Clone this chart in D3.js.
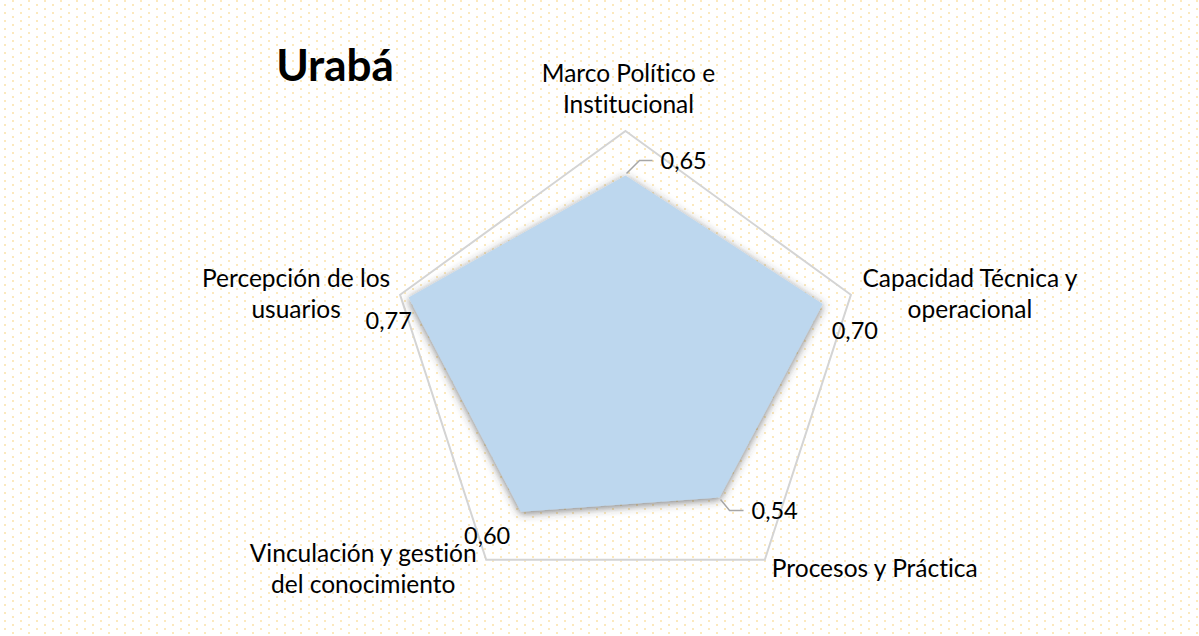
<!DOCTYPE html>
<html>
<head>
<meta charset="utf-8">
<script src="https://cdn.jsdelivr.net/npm/d3@7"></script>
<style>
  html, body { margin: 0; padding: 0; background: #fff; }
  svg { display: block; }
  text { font-family: Lato, "Open Sans", sans-serif; fill: #000; font-variant-ligatures: none; }
</style>
</head>
<body>
<svg id="chart" width="1199" height="636"></svg>
<script>
// Índices por dimensión – Urabá
const title = "Urabá";
const categories = [
  ["Marco Político e", "Institucional"],
  ["Capacidad Técnica y", "operacional"],
  ["Procesos y Práctica"],
  ["Vinculación y gestión", "del conocimiento"],
  ["Percepción de los", "usuarios"]
];
const values = [0.65, 0.70, 0.54, 0.60, 0.77];
const valueLabels = ["0,65", "0,70", "0,54", "0,60", "0,77"];
const axisMax = 0.8;

const W = 1199, H = 636;
const cx = 625.5, cy = 368, R = 237;

const svg = d3.select("#chart");
const defs = svg.append("defs");

// dotted background fill
const pat = defs.append("pattern")
  .attr("id", "dots").attr("patternUnits", "userSpaceOnUse")
  .attr("width", 16).attr("height", 8);
pat.append("rect").attr("x", 12).attr("y", 0).attr("width", 2).attr("height", 2).attr("fill", "#fce9bd");
pat.append("rect").attr("x", 4).attr("y", 4).attr("width", 2).attr("height", 2).attr("fill", "#fce9bd");
svg.append("rect").attr("width", W).attr("height", H).attr("fill", "#fff");
svg.append("rect").attr("width", W).attr("height", H).attr("fill", "url(#dots)");

// soft shadow around the filled area
const f = defs.append("filter").attr("id", "shadow")
  .attr("x", "-20%").attr("y", "-20%").attr("width", "140%").attr("height", "140%");
f.append("feDropShadow").attr("dx", 0).attr("dy", 2).attr("stdDeviation", 4)
  .attr("flood-color", "#3a3a3a").attr("flood-opacity", 0.65);

const r = d3.scaleLinear().domain([0, axisMax]).range([0, R]);
const angle = d3.scalePoint().domain(d3.range(categories.length + 1)).range([0, 2 * Math.PI]);
const pt = (i, v) => {
  const a = angle(i);
  return [cx + r(v) * Math.sin(a), cy - r(v) * Math.cos(a)];
};

const g = svg.append("g");

// outer gridline
const outer = categories.map((_, i) => pt(i, axisMax));
g.append("path")
  .attr("d", d3.line()(outer) + "Z")
  .attr("fill", "none").attr("stroke", "#d4d4d4").attr("stroke-width", 2);

// data area
const line = d3.lineRadial()
  .angle((d, i) => angle(i))
  .radius(d => r(d))
  .curve(d3.curveLinearClosed);
g.append("path")
  .datum(values)
  .attr("transform", `translate(${cx},${cy})`)
  .attr("d", line)
  .attr("fill", "#bdd7ee")
  .attr("filter", "url(#shadow)");

// category labels, placed beyond the outer vertices
const catOffset = [
  { dx: 3, dy: -28 },
  { dx: 119, dy: 14 },
  { dx: 110, dy: 8 },
  { dx: -123, dy: 24 },
  { dx: -104, dy: 14 }
];
const lineH = 31;
categories.forEach((lines, i) => {
  const [x, y] = pt(i, axisMax);
  const o = catOffset[i];
  const t = svg.append("text")
    .attr("text-anchor", "middle")
    .style("font-size", "24.5px");
  lines.forEach((s, k) => {
    t.append("tspan")
      .attr("x", x + o.dx)
      .attr("y", y + o.dy - (lines.length - 1 - k) * lineH)
      .attr("dominant-baseline", "central")
      .text(s);
  });
});

// value labels with leader lines where they sit away from the point
const valOffset = [
  { dx: 35, dy: -15, leader: true },
  { dx: 9, dy: 26, leader: false },
  { dx: 32, dy: 13, leader: true },
  { dx: -57, dy: 23, leader: false },
  { dx: -43, dy: 22, leader: false }
];
values.forEach((v, i) => {
  const [x, y] = pt(i, v);
  const o = valOffset[i];
  if (o.leader) {
    const ex = x + o.dx - 8, ey = y + o.dy;
    const mx = i === 0 ? x + 14 : x + 10;
    const sy = i === 0 ? y - 2 : y + 2;
    g.append("path")
      .attr("d", `M${x + 1},${sy} L${mx},${ey} L${ex},${ey}`)
      .attr("fill", "none").attr("stroke", "#a6a6a6").attr("stroke-width", 1.5);
  }
  svg.append("text")
    .attr("x", x + o.dx).attr("y", y + o.dy)
    .attr("dominant-baseline", "central")
    .style("font-size", "23.5px")
    .text(valueLabels[i]);
});

// title
svg.append("text")
  .attr("x", 335).attr("y", 64)
  .attr("text-anchor", "middle")
  .attr("dominant-baseline", "central")
  .style("font-size", "44px").style("font-weight", "bold")
  .text(title);
</script>
</body>
</html>
